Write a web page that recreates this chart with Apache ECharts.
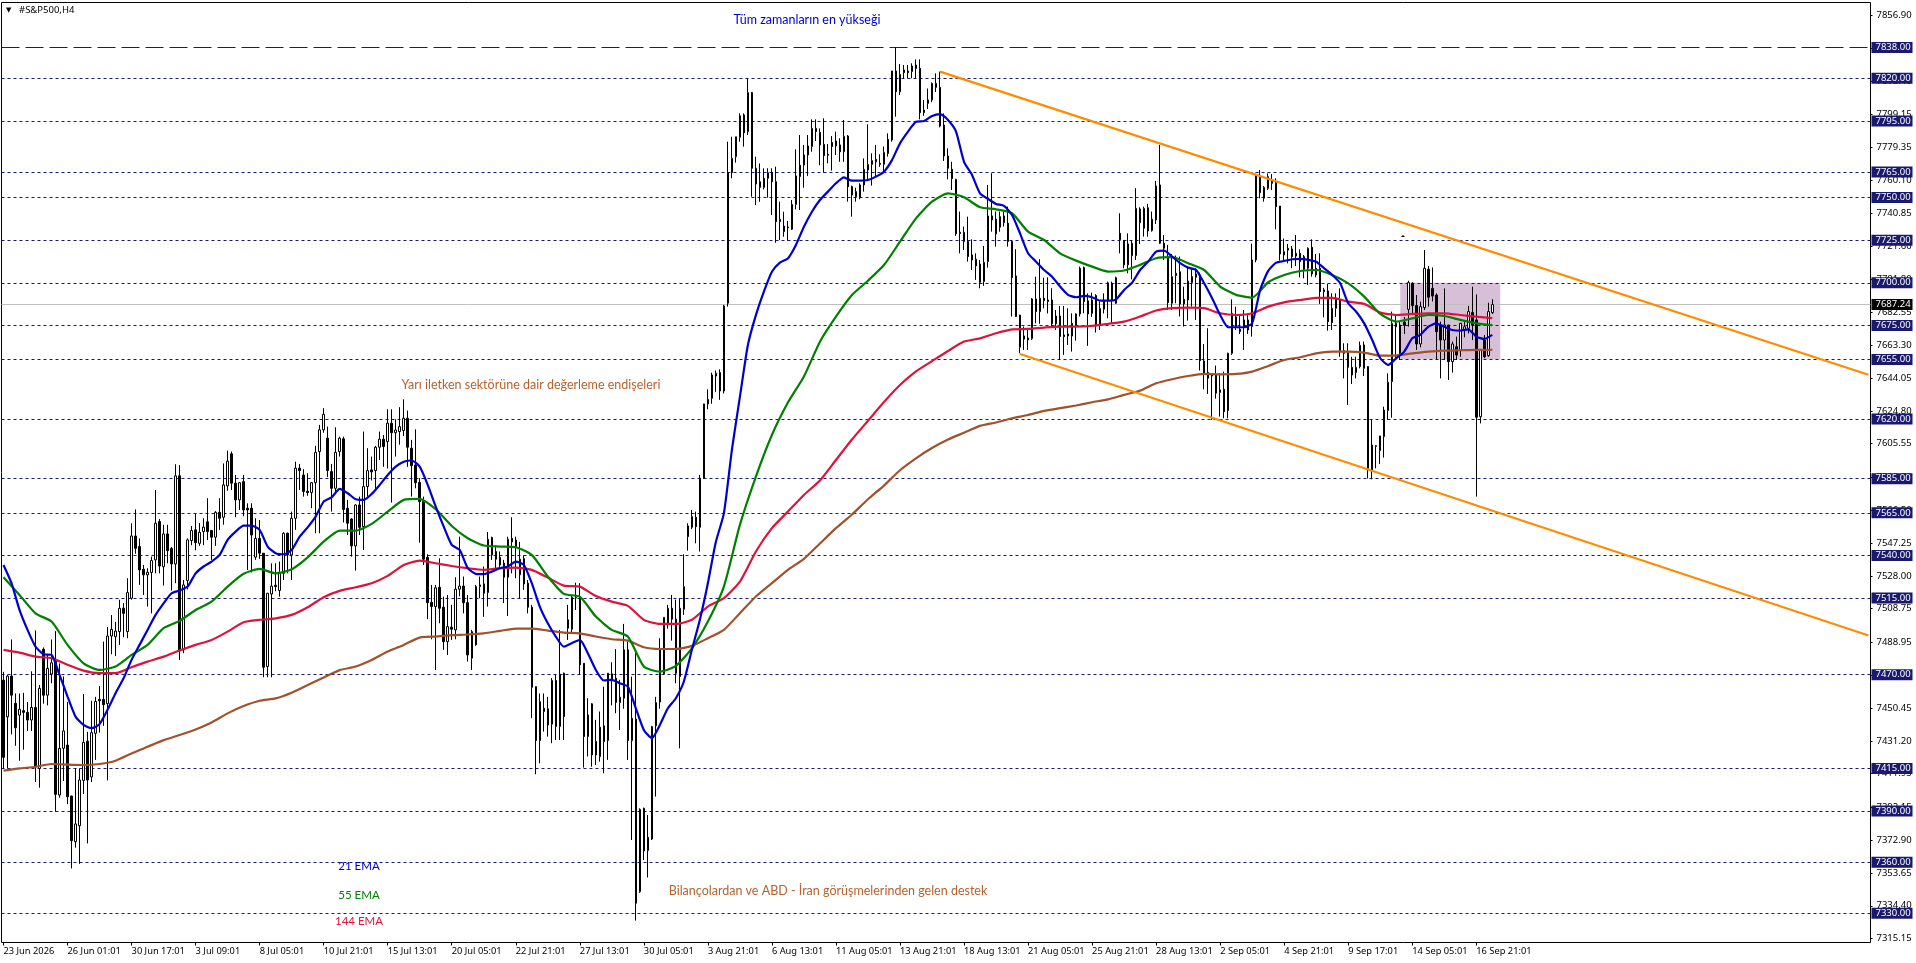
<!DOCTYPE html>
<html>
<head>
<meta charset="utf-8">
<title>#S&amp;P500,H4</title>
<style>
html, body { margin: 0; padding: 0; background: #fff; }
#main { width: 1916px; height: 963px; }
</style>
<script src="https://cdn.jsdelivr.net/npm/echarts@6/dist/echarts.min.js"></script>
</head>
<body>
<div id="main"></div>
<script>
// one label every 16 candles
const timeLabels = ["23 Jun 2026", "26 Jun 01:01", "30 Jun 17:01", "3 Jul 09:01", "8 Jul 05:01", "10 Jul 21:01", "15 Jul 13:01", "20 Jul 05:01", "22 Jul 21:01", "27 Jul 13:01", "30 Jul 05:01", "3 Aug 21:01", "6 Aug 13:01", "11 Aug 05:01", "13 Aug 21:01", "18 Aug 13:01", "21 Aug 05:01", "25 Aug 21:01", "28 Aug 13:01", "2 Sep 05:01", "4 Sep 21:01", "9 Sep 17:01", "14 Sep 05:01", "16 Sep 21:01"]

const opens = [
7466.8,7445.3,7469.2,7453.2,7446.3,7448.9,7447.9,7443.4,7450.8,7415,
7484.9,7458,7470.4,7478.6,7399.4,7426.8,7428.7,7398.8,7372,7381.4,
7408,7431,7410,7435.6,7455.5,7455.5,7453,7492.7,7492.3,7495.3,
7509,7495.3,7514.9,7551.4,7545.2,7531.9,7528.6,7530,7537.4,7559.9,
7533.4,7552.6,7544,7535,7586.7,7484.6,7525.2,7548.7,7555,7547.1,
7554,7559.7,7554.6,7550.7,7565.3,7562.4,7580.8,7599.6,7582.4,7572.6,
7583.3,7567.7,7567.7,7539,7550,7541.3,7474.8,7517.4,7522.5,7519.4,
7529.5,7553,7540.3,7561.8,7591.2,7587.2,7577.7,7576.9,7582.7,7600.9,
7613.7,7608.8,7589.2,7579.4,7600.9,7608.4,7567.7,7561.4,7545.6,7569.6,
7556.9,7580.4,7590.2,7589.8,7603.5,7608.2,7606.8,7617.6,7612,7612.7,
7613.3,7620.5,7602.9,7593,7582.9,7571.6,7538.9,7512.5,7510,7521.3,
7509.6,7489.4,7497.9,7496.3,7520.2,7522,7512.3,7479.7,7487.5,7521.7,
7523.3,7518.2,7550.5,7542.3,7538.9,7535.4,7527.2,7550,7549,7528.6,
7538.1,7523.7,7509.6,7463,7431.4,7448.4,7450,7441,7466.6,7439.6,
7470.9,7502.2,7496.7,7515,7515.8,7476.7,7433.7,7452.9,7430.8,7421.9,
7440,7431.4,7470.5,7467.9,7453.6,7456.2,7484.6,7431.3,7444,7342.7,
7391.6,7366.8,7373.6,7440,7454,7470.5,7499.2,7509,7502.6,7468.9,
7508.4,7551,7556.5,7562.4,7556.5,7585.3,7628.9,7632.2,7645.3,7647.3,
7636.5,7688,7764.6,7774,7785.4,7798.5,7788.7,7811.6,7767.2,7759.3,
7756,7761.3,7764.8,7759.3,7735.9,7730,7732.7,7731.4,7746,7762.3,
7769.1,7775,7779.9,7790.6,7788.3,7781.2,7775.4,7779.9,7783.2,7780.9,
7776.9,7786.1,7756.4,7753.5,7749.9,7757.4,7766.2,7769.5,7772.4,7770.1,
7769.5,7775.9,7783.8,7824.3,7812.1,7824.9,7824.3,7823.9,7827.8,7825.8,
7799.8,7805.3,7807.3,7817,7814.7,7792.6,7774.4,7766.6,7760.7,7729.6,
7729.6,7724.2,7716.3,7713.8,7711,7700.7,7712.4,7739.2,7737.3,7732.6,
7739.2,7734.9,7724.2,7704,7681.1,7668.8,7667.6,7667.2,7690.5,7683.1,
7690.9,7689.9,7689.9,7675.9,7680.5,7669.4,7670,7676.2,7674.3,7681.7,
7708.9,7689.4,7682.1,7692.5,7675.3,7684.5,7689.9,7699.7,7688,7729,
7724.8,7710.5,7723.2,7716,7743.3,7732,7744,7730.6,7736.9,7757.4,
7723.2,7715.4,7688,7704.2,7706.4,7687.6,7689.9,7700.1,7703.2,7704.6,
7654.1,7647.3,7645.3,7646,7635.6,7637.5,7625,7658.6,7674.3,7672.7,
7674.3,7678.2,7674.3,7713.4,7762.9,7749.6,7755.4,7760.3,7758.8,7745,
7716.3,7720.2,7719.8,7715.7,7717.3,7715.3,7708.5,7720.8,7708.5,7708.5,
7695.8,7695.2,7676.6,7685,7690.3,7658.6,7659,7650.4,7647.3,7650.8,
7663.5,7650.8,7589.2,7604,7601.5,7609.7,7625,7642,7676.2,7675.2,
7677,7684.4,7699.7,7686.6,7664.1,7685.4,7707.9,7696.7,7692.8,7675.2,
7666.4,7675.2,7653.7,7662.5,7660.2,7672.3,7673.3,7682.5,7678.2,7621.4,
7666.4,7657.2,7682.5]

const closes = [
7421.5,7469.2,7458,7438.9,7449.7,7447.9,7443.4,7450.8,7416,7462,
7458,7473.7,7477,7399.8,7426.8,7437,7398.4,7372.6,7382.4,7408.2,
7430.3,7408.2,7436,7454.3,7454.7,7452.4,7492.7,7496.6,7495.6,7509,
7506,7518.2,7551.4,7544.2,7531.5,7528.6,7530.1,7537,7558.9,7533.8,
7552.6,7542.8,7535,7586.7,7484.2,7522.7,7549.1,7554.6,7547.5,7553.6,
7556.6,7554,7550.7,7565.3,7561.8,7581.4,7595.3,7582.4,7572.6,7582.7,
7566.7,7566.7,7552,7550,7541.3,7474.4,7517.8,7522,7521.7,7529.5,
7553,7540.3,7561.8,7591.2,7589.8,7577.5,7576.9,7582.7,7600.5,7613.7,
7622.8,7589.8,7579.4,7600.5,7608.8,7567,7558.9,7545.6,7569.6,7556.5,
7580.4,7589.8,7589,7603.5,7608.2,7603.9,7617.6,7612,7613.6,7615.6,
7620.5,7603.5,7592.7,7582.7,7571.6,7537.8,7512.3,7510,7521,7509,
7489.4,7498.2,7496.7,7520.2,7522,7512.3,7481.6,7495.3,7521.7,7522.7,
7517.8,7549.5,7540.3,7537.8,7534.4,7527.2,7549.5,7548,7545.2,7537.8,
7523.3,7509.6,7462.6,7431.4,7454.2,7450.3,7440.5,7466.6,7439.6,7470.3,
7445.4,7497.3,7515.5,7515.5,7475.8,7433.7,7446.4,7422.9,7422.9,7439.2,
7430.8,7470.9,7467,7453.8,7456.8,7484.6,7431.4,7444.4,7335.9,7391,
7366.6,7374.6,7439.5,7453.6,7485.5,7503.7,7509,7502.6,7470.9,7509,
7521.7,7557.3,7562.8,7556.9,7585.3,7628.9,7631.6,7645.9,7646.9,7636.5,
7686.4,7764.8,7773,7785.7,7798,7788,7811.6,7767.2,7758,7756,
7761.3,7764.6,7759.3,7735.9,7737.2,7733.3,7732.3,7746,7762.7,7769,
7775,7780.3,7790.6,7788.7,7780.9,7774.6,7774.8,7782.4,7780.3,7776.9,
7785.9,7756.4,7751.5,7750.5,7757.4,7766.6,7769.5,7771.7,7771,7769.5,
7776.5,7784.2,7824.3,7812.1,7822.3,7823.3,7823.3,7827.2,7825.8,7799.8,
7801.4,7807.3,7817,7814.7,7792,7774.4,7767.2,7761.1,7728.7,7728.9,
7724.2,7715.4,7713.4,7709.9,7700.3,7712,7739.2,7736.9,7728.7,7738.8,
7735.3,7724.2,7703,7680.2,7662.2,7666.9,7666.5,7690.5,7683.1,7690.9,
7689.5,7689,7675.9,7680.5,7668.4,7668.4,7668.8,7668.8,7681.7,7708.5,
7689,7681.7,7689.9,7674.7,7685,7689.4,7700,7689.9,7703,7725.2,
7710.5,7722.8,7716,7743.7,7735.3,7743.7,7730.4,7737.3,7756.8,7723.2,
7720.3,7688.4,7703.6,7705.6,7687.6,7690.3,7701,7703.6,7705.2,7654.3,
7646.5,7644,7646,7635.2,7637.1,7624.4,7658.6,7682.1,7680,7671.4,
7678.2,7672.3,7713.4,7763.3,7752.9,7756,7762.3,7758.4,7744.7,7716.9,
7718.3,7719.2,7715.3,7717.3,7712.4,7707.9,7720.2,7705.2,7704.6,7694.8,
7694.8,7677.2,7685,7690.9,7660.2,7660.2,7650.4,7645.9,7650.4,7663.3,
7649.8,7591.1,7604.8,7604.4,7610.1,7625.3,7641.6,7676.2,7674.2,7658.6,
7675,7700.1,7686.6,7664.1,7686,7708.5,7691.5,7692.2,7671.3,7666.4,
7675.2,7653.7,7664.1,7657.6,7676.2,7674.2,7683.1,7675.2,7621.1,7660.6,
7656.6,7683.1,7687.2]

const lows = [
7415,7415,7435,7428.3,7419.5,7426,7437,7437,7407,7403.7,
7453,7452,7465,7389.6,7397.8,7407.6,7394,7356.3,7368.5,7359,
7400,7371,7407,7420,7436,7440,7408,7482,7481,7487.5,
7492,7491.4,7514,7541,7522.7,7516.8,7510,7506,7529.5,7529.5,
7522.3,7535.4,7519.4,7523.7,7478.7,7482.6,7520,7546,7543,7545.6,
7546,7549,7537.4,7545.6,7555,7558,7578,7578.4,7562.4,7566.7,
7563,7531.5,7530,7537.4,7538,7468.5,7468.5,7468.5,7519,7515.8,
7525.6,7529.5,7525.6,7555,7578.4,7574.5,7575,7567.7,7553,7553,
7612,7586,7565.7,7577,7598,7559.3,7552,7539.3,7531.1,7552,
7543.2,7574.5,7584,7578.4,7596,7592,7591,7571,7598,7605,
7610,7592,7574.5,7579.4,7547.5,7534.4,7502.6,7490.8,7472.8,7500.2,
7484.6,7481.6,7490.4,7490.8,7516,7506,7477.7,7472.8,7487,7514.9,
7504,7510,7537.4,7532.5,7532.5,7512,7504.5,7529.5,7526.6,7514.9,
7519.8,7506,7444.5,7411.6,7418,7436.6,7433.7,7429.8,7431.7,7431.7,
7431.7,7490.4,7494.3,7508,7469.9,7415.5,7422,7416,7417,7419,
7412.2,7420,7452,7447.4,7437.6,7450,7420,7373,7325.7,7342,
7361.3,7351,7373,7398.5,7450,7470,7497,7490,7465,7426.8,
7505.1,7542.8,7555.4,7547.1,7542.3,7585,7625.8,7629,7636,7631.3,
7635,7686,7761.3,7770.5,7782.8,7779.9,7786.7,7750.5,7745.6,7747.6,
7754.8,7750,7739.8,7723.5,7725,7727,7724.7,7731,7743.1,7742.7,
7755.8,7762.7,7776.9,7783.2,7769,7764.6,7770.1,7765.8,7775,7771,
7771,7747.6,7738.8,7747.6,7749,7753.5,7759.7,7757,7762,7768,
7765,7774,7782.8,7797.5,7810.2,7820,7820,7820,7820,7795.9,
7798,7802,7806,7812,7791.2,7771.5,7760.7,7754.4,7727.5,7717.3,
7719.3,7712.4,7707.5,7701.7,7696.8,7698.2,7708.9,7730,7721.2,7730,
7733,7721.2,7680.2,7680,7658.6,7660.6,7660.6,7666.5,7676.2,7675.9,
7685,7682,7674.3,7672.3,7654.7,7657.7,7663.5,7659.6,7666,7680.2,
7682.1,7663,7680,7670.8,7672.3,7682,7679.2,7675.9,7687.6,7717.3,
7708.5,7705.6,7702,7713.4,7722.8,7727.1,7727,7730,7734.5,7722.8,
7713.4,7684,7684,7688,7680.2,7674.3,7677.8,7686,7678.2,7648.5,
7637.5,7634.8,7619.5,7632,7621.5,7620.5,7620.5,7657.7,7672.3,7670,
7660.6,7670,7668.4,7712,7749.6,7747.6,7754.4,7754.4,7731.4,7713,
7712.4,7711.4,7708.5,7709.8,7703.2,7702.6,7698.7,7703.6,7703.2,7687.6,
7679.7,7671.9,7672.3,7680,7656.6,7643.9,7628.3,7640.6,7643.9,7649.8,
7645.3,7585.2,7584.7,7591.1,7593.7,7597.4,7619.5,7620.8,7655,7654.7,
7670,7674.3,7681,7660.6,7662.1,7684,7686,7689,7655,7643.9,
7654.7,7643,7647.3,7654.7,7656.6,7668,7670.3,7666.4,7574.5,7617.5,
7655.7,7656.6,7681.7]

const highs = [
7471.7,7470,7490.7,7459,7459,7459.4,7454,7472,7496,7464,
7486,7481.5,7490.7,7495.6,7476.6,7469,7454,7399,7415,7415,
7458.6,7436.5,7454.7,7457,7463.3,7489.4,7498,7505,7501,7514,
7512,7526.6,7558.9,7567,7550,7534.4,7532.5,7539.3,7578.4,7561.4,
7558,7558,7545,7593.5,7593,7525.6,7550,7557.3,7564.4,7559,
7561.8,7573.6,7555,7566,7573.6,7594,7601.5,7601,7587.2,7583,
7587.2,7570.6,7570.6,7561.8,7560.8,7541.3,7518,7535.4,7535.4,7536.4,
7553.6,7553.4,7565.7,7595,7593.7,7590.6,7588.2,7583,7604.3,7616.6,
7626.4,7615.6,7593.7,7615.2,7609.7,7609.7,7572.6,7561.8,7570,7574.5,
7612.7,7602.9,7598,7604.3,7612.7,7610.7,7625.8,7625.8,7619.9,7627,
7631.6,7625,7607.8,7614,7585.3,7574.5,7540.7,7522.7,7522.7,7538.3,
7515.8,7516.8,7511,7527.2,7551,7527.6,7516.8,7496.3,7522.7,7527.6,
7533.5,7553.8,7551,7545.6,7542.3,7537.4,7551,7562.4,7551,7548,
7540,7525.6,7511,7463,7459,7459,7457,7468,7470,7496.3,
7471.2,7511,7516.8,7524,7523.7,7476.7,7456.2,7453.3,7443.5,7448.4,
7463,7471,7477.3,7485,7467,7499.8,7489.5,7468.9,7482.6,7391.6,
7392,7387.7,7440,7457,7491.4,7503.7,7511,7516.8,7514,7514.9,
7540.7,7558.9,7566.7,7565.7,7587.2,7629,7637.5,7647.3,7648.5,7649.2,
7687,7782.8,7785.7,7785.7,7799.4,7799.4,7820,7812,7774,7770,
7767.2,7767.2,7767.2,7768.1,7747.6,7741.7,7736.3,7748.6,7778.3,7786.7,
7780.9,7786.7,7795.9,7795.9,7790.6,7796.5,7781.4,7786.1,7788.7,7784.8,
7795.5,7786.7,7757,7755.8,7758.4,7773,7793,7776,7780.9,7775.4,
7780,7787.7,7824.3,7838.2,7828.4,7827.8,7827.8,7828.8,7831.1,7831.1,
7807.3,7814,7817.6,7822.9,7823.9,7799.4,7778.9,7771,7761,7741.8,
7733,7738.8,7725.5,7717.3,7713.4,7721.6,7757.4,7764.3,7741.8,7741.8,
7741.8,7744.7,7725,7719.7,7681.1,7674.3,7672.3,7691,7703.6,7713.8,
7703,7703.2,7696.8,7684,7686.4,7686.4,7685,7682.1,7682,7709.5,
7709.5,7693.8,7694.2,7693.3,7689,7693.8,7700.7,7700.7,7703.6,7740.8,
7725,7729,7725,7755.5,7744.3,7744.7,7746.3,7741.8,7759.8,7780.9,
7728,7722.2,7716.9,7716,7715.4,7697.7,7708.9,7708.5,7708.5,7706,
7664,7673.3,7647,7651.4,7646.9,7647.9,7659,7690.3,7686,7681,
7684,7681,7723,7764,7766.2,7756.8,7764.2,7763.8,7761.3,7745,
7726,7722.8,7721.6,7728,7719.6,7716.3,7720.8,7725.5,7716.9,7717.3,
7697,7699.3,7693.8,7693.8,7696.7,7664.5,7664.5,7656.6,7656.6,7665.5,
7665.5,7651,7619.9,7604.8,7610.2,7627.3,7646.9,7683.1,7681.7,7677.2,
7680,7701.2,7700.3,7692.8,7688.9,7719.2,7709.8,7709,7693.8,7677.2,
7696.7,7675.2,7665.5,7668.4,7676.5,7678,7686.4,7697.7,7693.2,7661,
7669.4,7688.3,7690.3]

// 21 EMA, one reading every 2nd candle
const ema21 = [
7534.4,7523.7,7508,7496.3,7486.5,7482,7481.6,7469.9,7457.2,7445.4,
7440.5,7438.6,7441,7449.4,7459.1,7467.9,7478.7,7487.5,7496.3,7505.1,
7511.9,7517.8,7519.4,7521.7,7529.5,7533.5,7536.4,7540.3,7549.1,7554,
7557.5,7557.5,7555,7545.2,7541.3,7540.7,7543.2,7551,7556.5,7562.8,
7571.6,7574.1,7579,7576.5,7573,7572.6,7576.1,7581.4,7587.2,7592.1,
7595,7595.7,7592.1,7581.4,7568.7,7556.9,7546.2,7543.2,7532.5,7529.2,
7529,7530.5,7532.5,7533.5,7536.4,7534.4,7523.7,7510,7500.2,7492.4,
7486.5,7488.5,7490.4,7482.6,7472.8,7466.6,7467,7465,7463,7450.3,
7437.6,7432.7,7440.5,7450.3,7456.2,7466,7484.6,7502.2,7523.7,7548,
7564.7,7602,7633,7663.5,7681,7694.8,7706.5,7711.8,7714.3,7722.2,
7732.9,7741.7,7748.6,7753.5,7758.4,7761.9,7759.9,7759.9,7760.3,7762.3,
7765.2,7772,7781.8,7788.7,7794.5,7794.9,7797.9,7799,7795.5,7788.7,
7771,7763.3,7752.5,7749.2,7746.3,7745.1,7739.8,7729,7717.3,7712.4,
7707.5,7703.6,7697.8,7692.9,7691.5,7692.3,7691.5,7689.5,7689.5,7690.3,
7695.8,7700.1,7707.5,7712.4,7718.3,7718.9,7715.4,7711.5,7708.9,7707.5,
7699.7,7690.9,7681.1,7673.9,7673.9,7673.9,7676.3,7695.8,7707,7711.8,
7712.8,7713.8,7714,7713.4,7712.4,7708.5,7704.6,7699.7,7688,7683,
7676.2,7666.4,7655.7,7651.8,7655.7,7659.6,7667.4,7669.4,7674.2,7676.2,
7674.2,7672.3,7671.9,7672.7,7668.4,7667,7669.4]
// the slower EMAs, one reading every 4th candle
const ema55 = [7527.2,7516.8,7506,7501.2,7487.5,7476.7,7472.8,7474.8,7481.6,7487.5,7497.3,7501.6,7508,7512.9,7521.7,7529.2,7532.1,7529.5,7531.9,7538.9,7548.1,7554.6,7554.6,7558.5,7565.7,7572.6,7573.2,7567.1,7557.3,7550.1,7545.8,7545.2,7544.8,7540.3,7527.6,7517.4,7515.8,7504.1,7496.3,7492.4,7474.8,7471.8,7475.2,7485.5,7501.2,7521.7,7557.9,7586.3,7610.7,7629.7,7645,7665.4,7680.1,7692.8,7701.2,7710.4,7724.1,7737.8,7747.6,7752.5,7750.2,7744.3,7743.1,7740.8,7730,7725.1,7717.3,7713,7709.5,7706.6,7707.2,7710.5,7714.4,7715,7711.5,7707.5,7697.8,7692.9,7691.3,7700.3,7704.6,7706.9,7707.5,7704.6,7699.7,7691.9,7681.7,7677.2,7679.1,7681.1,7680.5,7678.2,7676.2,7675.2]
const ema144 = [7484.6,7483,7480.6,7479.7,7475.8,7472.4,7470.9,7470.9,7474.4,7477.7,7480.6,7484.2,7487.5,7490.4,7495.3,7500.8,7502.2,7503.1,7505.1,7509.6,7515.5,7519.2,7521.3,7523.7,7528,7534.4,7537,7535.4,7533.8,7532.5,7531.5,7532.5,7532.9,7531.5,7527,7522.3,7521.7,7516.2,7512.9,7510.4,7502.2,7499.8,7499.8,7502.2,7510,7514.9,7524.6,7542.3,7556,7565.7,7575.5,7584,7596,7608,7619,7630,7640,7648,7654,7660,7665.5,7667.4,7670.4,7672.7,7672.9,7673.7,7674.3,7674.3,7674.7,7675.9,7677.2,7680.2,7683.7,7685.1,7685.4,7685.1,7682.1,7681.1,7682.1,7686,7688.5,7689.9,7691.1,7691.1,7688.9,7687.6,7682.5,7681.1,7681.7,7682.1,7682.1,7681.1,7680.1,7679.3]
const ema233 = [7413.7,7415,7416,7417.6,7417.2,7417,7417.6,7419.5,7423.8,7427.7,7431.6,7434.6,7437.9,7442,7447.3,7451.6,7454.7,7456.1,7459.4,7463.9,7468.4,7472.7,7474.8,7478.7,7483.6,7487.5,7491.8,7492.4,7493.2,7493.6,7494.3,7495.7,7497.1,7497.1,7495.9,7494.7,7494.3,7492.4,7490.8,7490,7486.1,7485.1,7485.1,7486.9,7491.4,7496.3,7506.1,7515.9,7523.7,7531.5,7538,7547,7556,7564,7573,7581,7590,7597,7603,7608,7612,7616,7618,7620.5,7622.4,7624.8,7626.4,7628,7629.9,7631.6,7634.2,7636.7,7641,7643.4,7645.3,7646.5,7646.3,7646.5,7647.9,7651.2,7654.7,7656.3,7658.6,7659.6,7659.6,7659,7657.2,7657.4,7658.6,7659.6,7660.2,7660.4,7660.6,7660.6]

const levels = [7820, 7795, 7765, 7750, 7725, 7700, 7675, 7655, 7620, 7585, 7565, 7540, 7515, 7470, 7415, 7390, 7360, 7330]
const allTimeHigh = 7838
const lastPrice = 7687.24
const axisTicks = [7856.90, 7837.65, 7818.40, 7799.15, 7779.35, 7760.10, 7740.85, 7721.60, 7701.80, 7682.55, 7663.30, 7644.05, 7624.80, 7605.55, 7585.75, 7566.50, 7547.25, 7528.00, 7508.75, 7488.95, 7469.70, 7450.45, 7431.20, 7411.95, 7392.15, 7372.90, 7353.65, 7334.40, 7315.15]

// trend channel, [candle index, price]
const upperChannel = [[234, 7823.9], [466, 7646]]
const lowerChannel = [[254, 7658.2], [466, 7493]]
// range box, [candle index, price] of the two corners
const rangeBox = [[349, 7700], [374, 7655]]

const slots = 467
const categories = Array.from({ length: slots }, (_, i) => i % 16 === 0 ? (timeLabels[i / 16] || "") : "")
const candleData = opens.map((o, i) => [o, closes[i], lows[i], highs[i]])
const toLine = (arr, step) => arr.map((v, i) => [i * step, v])

const axisFont = '"Noto Sans", sans-serif'

function levelItem(value, lineStyle, bg) {
    return {
        yAxis: value,
        lineStyle: lineStyle,
        label: { backgroundColor: bg }
    }
}

function emaSeries(name, arr, step, color) {
    return {
        name: name,
        type: 'line',
        data: toLine(arr, step),
        symbol: 'none',
        smooth: 0.2,
        z: 3,
        lineStyle: { color: color, width: 2.2 }
    }
}

function channelSeries(name, points) {
    return {
        name: name,
        type: 'line',
        data: points,
        symbol: 'none',
        z: 4,
        lineStyle: { color: '#FF8C00', width: 2.2 }
    }
}

function note(text, x, y, color, size) {
    return {
        type: 'text',
        x: x,
        y: y,
        z: 20,
        style: { text: text, fill: color, font: size + 'px Lato, "Noto Sans", sans-serif', align: 'center', verticalAlign: 'middle' }
    }
}

const levelLine = { color: '#191970', width: 1, type: [3, 3] }

var myChart = echarts.init(document.getElementById('main'), null, { renderer: 'canvas' })

myChart.setOption({
    animation: false,
    backgroundColor: '#fff',
    grid: {
        show: true,
        left: 1.5,
        top: 2.5,
        width: 1869,
        height: 940,
        borderColor: '#000',
        borderWidth: 1,
        backgroundColor: 'transparent'
    },
    xAxis: {
        type: 'category',
        data: categories,
        boundaryGap: true,
        axisLine: { show: false },
        axisTick: {
            show: true,
            length: 3,
            alignWithLabel: true,
            interval: i => i % 16 === 0 && i <= 368,
            lineStyle: { color: '#000' }
        },
        axisLabel: {
            show: true,
            interval: i => i % 16 === 0 && i <= 368,
            color: '#000',
            fontFamily: axisFont,
            fontSize: 9.3,
            align: 'left',
            margin: 4
        },
        splitLine: { show: false }
    },
    yAxis: {
        type: 'value',
        position: 'right',
        min: 7312.85,
        max: 7864.48,
        scale: true,
        splitLine: { show: false },
        axisLine: { show: false },
        axisTick: {
            show: true,
            length: 2,
            customValues: axisTicks,
            lineStyle: { color: '#000' }
        },
        axisLabel: {
            show: true,
            customValues: axisTicks,
            formatter: v => v.toFixed(2),
            color: '#000',
            fontFamily: axisFont,
            fontSize: 9.5,
            margin: 6
        }
    },
    series: [
        {
            name: 'levels',
            type: 'line',
            data: [],
            z: 1,
            markArea: {
                silent: true,
                z: 0,
                itemStyle: { color: '#D8BFD8' },
                data: [[
                    { xAxis: rangeBox[0][0], yAxis: rangeBox[0][1] },
                    { xAxis: rangeBox[1][0], yAxis: rangeBox[1][1] }
                ]]
            },
            markLine: {
                silent: true,
                z: 1,
                symbol: 'none',
                precision: 2,
                label: {
                    show: true,
                    position: 'end',
                    distance: 1,
                    formatter: p => p.value.toFixed(2),
                    color: '#fff',
                    fontFamily: axisFont,
                    fontSize: 9.5,
                    padding: [1, 3, 0, 4],
                    width: 34,
                    align: 'left'
                },
                data: levels.map(v => levelItem(v, levelLine, '#191970')).concat([
                    levelItem(allTimeHigh, { color: '#191970', width: 1, type: [18, 6] }, '#191970'),
                    levelItem(lastPrice, { color: '#C0C0C0', width: 1, type: 'solid' }, '#000')
                ])
            }
        },
        {
            name: '#S&P500,H4',
            type: 'candlestick',
            data: candleData,
            barWidth: 2,
            z: 2,
            itemStyle: {
                color: '#fff',
                color0: '#000',
                borderColor: '#000',
                borderColor0: '#000',
                borderColorDoji: '#000',
                borderWidth: 1
            }
        },
        emaSeries('233 EMA', ema233, 4, '#A0522D'),
        emaSeries('144 EMA', ema144, 4, '#DC143C'),
        emaSeries('55 EMA', ema55, 4, '#008000'),
        emaSeries('21 EMA', ema21, 2, '#0000CD'),
        channelSeries('upper channel', upperChannel),
        channelSeries('lower channel', lowerChannel)
    ],
    graphic: [
        { type: 'text', x: 6, y: 10, z: 20, style: { text: '▼', fill: '#000', font: '7px "DejaVu Sans"', verticalAlign: 'middle' } },
        { type: 'text', x: 19, y: 10, z: 20, style: { text: '#S&P500,H4', fill: '#000', font: '9.5px ' + axisFont, verticalAlign: 'middle' } },
        note('Tüm zamanların en yükseği', 807, 20, '#0000CD', 12.5),
        note('Yarı iletken sektörüne dair değerleme endişeleri', 531, 385, '#B5622F', 12.5),
        note('Bilançolardan ve ABD - İran görüşmelerinden gelen destek', 828, 891, '#B5622F', 12.5),
        note('21 EMA', 359, 866, '#0000CD', 11.5),
        note('55 EMA', 359, 895, '#008000', 11.5),
        note('144 EMA', 359, 921, '#DC143C', 11.5),
        { type: 'polygon', z: 20, shape: { points: [[1401, 237], [1405, 237], [1403, 235]] }, style: { fill: '#000' } }
    ]
})
</script>
</body>
</html>
